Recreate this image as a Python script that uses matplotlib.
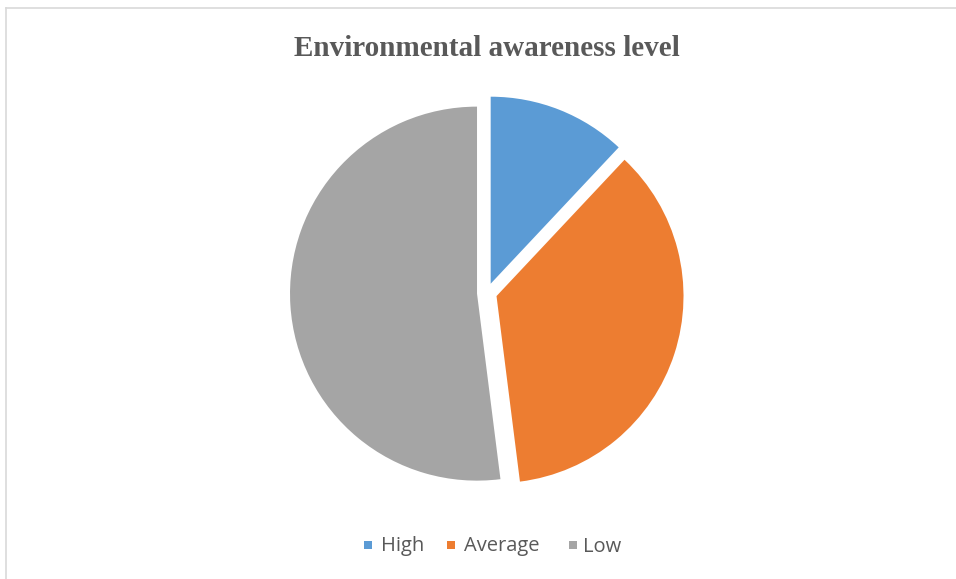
import matplotlib
matplotlib.use('Agg')
import matplotlib.pyplot as plt
from matplotlib.patches import Rectangle

# data
labels = ['High', 'Average', 'Low']
values = [12, 36, 52]
colors = ['#5B9BD5', '#ED7D31', '#A5A5A5']

W, H = 956, 579
fig = plt.figure(figsize=(W / 100, H / 100), dpi=100)
ax = fig.add_axes([0, 0, 1, 1])

# outer chart border (only top and left show in the crop)
ax.plot([6.5, 6.5], [0, H - 7.5], color='#D9D9D9', lw=1.2)
ax.plot([6.5, W], [H - 7.5, H - 7.5], color='#D9D9D9', lw=1.2)

# explode is in data units here (pixels), since radius is in pixels too
ax.pie(values, colors=colors, startangle=90, counterclock=False,
       explode=[10, 10, 10], center=(487, H - 293), radius=187,
       wedgeprops=dict(linewidth=0), frame=True)
ax.set_xlim(0, W)
ax.set_ylim(0, H)
ax.axis('off')

ax.text(487, H - 48.5, 'Environmental awareness level', ha='center', va='center',
        fontsize=21, fontweight='bold', family='Liberation Serif', color='#595959')

# legend
sq_x = [368, 451, 573]
txt_x = [381, 464, 583]
for sx, tx, lab, c in zip(sq_x, txt_x, labels, colors):
    ax.add_patch(Rectangle((sx - 4, H - 549), 8, 8, color=c, lw=0))
    ax.text(tx, H - 546.5, lab, ha='left', va='center', fontsize=14.5,
            family='Open Sans', color='#595959')

fig.savefig('out.png', dpi=100)
